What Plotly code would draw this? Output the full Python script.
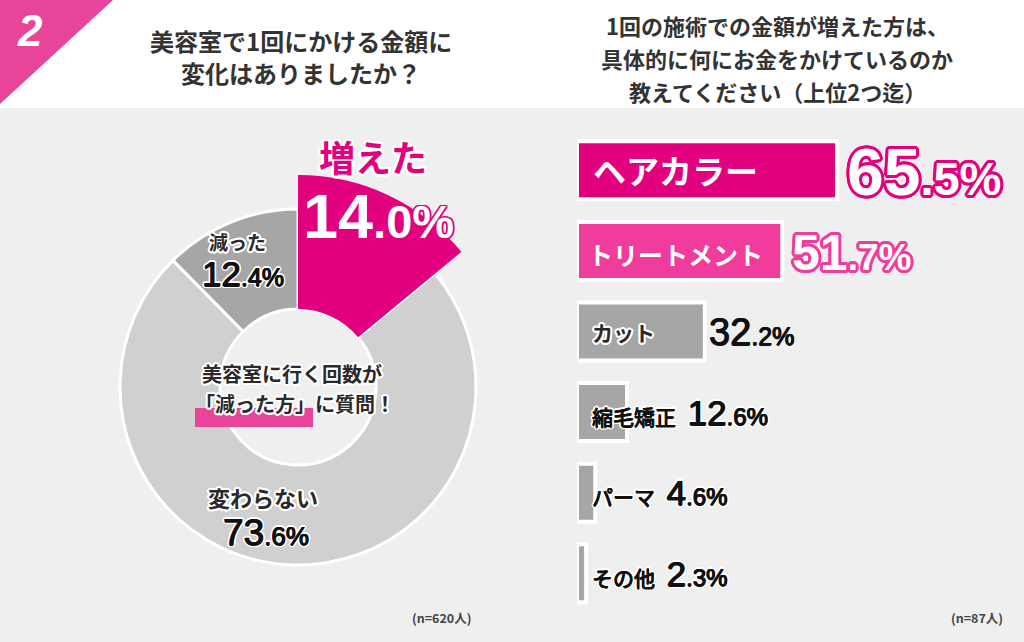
import math
import plotly.graph_objects as go

W, H = 1024, 642

# ---------------- data ----------------
badge = "2"
left_title = ["美容室で1回にかける金額に", "変化はありましたか？"]
right_title = ["1回の施術での金額が増えた方は、", "具体的に何にお金をかけているのか", "教えてください（上位2つ迄）"]

donut_labels = ["増えた", "変わらない", "減った"]
donut_values = [14.0, 73.6, 12.4]
donut_note = ["美容室に行く回数が", "「減った方」に質問！"]
donut_n = "(n=620人)"

bar_labels = ["ヘアカラー", "トリートメント", "カット", "縮毛矯正", "パーマ", "その他"]
bar_values = [65.5, 51.7, 32.2, 12.6, 4.6, 2.3]
bar_n = "(n=87人)"

# ---------------- style ----------------
PINK = "#e3007f"
PINK2 = "#f03c9c"
BADGE = "#e8449a"
RING = "#d0d0d0"
DARKG = "#a6a6a6"
BG = "#efefef"
TXT = "#2a2a2a"
JP = "Noto Sans CJK JP"
NUM = "Liberation Sans, Noto Sans CJK JP"


def px(x):
    return x / W


def py(y):
    return 1 - y / H


def outline(color, w, n=16, core=None):
    parts = []
    if core:
        parts += [f"0.6px 0 0 {core}", f"-0.6px 0 0 {core}", f"0 0.5px 0 {core}"]
    for k in range(n):
        a = 2 * math.pi * k / n
        parts.append(f"{w*math.cos(a):.1f}px {w*math.sin(a):.1f}px 0 {color}")
    return ", ".join(parts)


def pct(v, big, small):
    s = f"{v:.1f}"
    a, b = s.split(".")
    return (f'<span style="font-size:{big}px">{a}</span>'
            f'<span style="font-size:{small}px">.{b}%</span>')


fig = go.Figure()

# ---------------- donut ----------------
cx, cy, R, Rin, Rpink = 298, 387, 178, 78, 212

fig.add_trace(go.Pie(
    labels=donut_labels, values=donut_values, sort=False, direction="clockwise",
    rotation=0, hole=Rin / R, textinfo="none", hoverinfo="label+percent",
    marker=dict(colors=[PINK, RING, DARKG], line=dict(color="white", width=3)),
    domain=dict(x=[px(cx - R), px(cx + R)], y=[py(cy + R), py(cy - R)]),
    showlegend=False,
))
# enlarged highlight slice ("増えた")
fig.add_trace(go.Pie(
    labels=[donut_labels[0], "rest"], values=[donut_values[0], 100 - donut_values[0]],
    sort=False, direction="clockwise", rotation=0, hole=Rin / Rpink,
    textinfo="none", hoverinfo="skip",
    marker=dict(colors=[PINK, "rgba(0,0,0,0)"], line=dict(color="rgba(0,0,0,0)", width=0)),
    domain=dict(x=[px(cx - Rpink), px(cx + Rpink)], y=[py(cy + Rpink), py(cy - Rpink)]),
    showlegend=False,
))

# ---------------- bars ----------------
x0, unit = 577, 3.97
bar_top, bar_pitch = 130, 80.6
nb = len(bar_labels)
bar_colors = [PINK, PINK2] + [DARKG] * (nb - 2)

fig.add_trace(go.Bar(
    y=bar_labels, x=bar_values, orientation="h", width=0.72,
    marker=dict(color=bar_colors, line=dict(color="white", width=4)),
    hoverinfo="y+x", showlegend=False,
))

fig.update_layout(
    width=W, height=H, margin=dict(l=0, r=0, t=0, b=0),
    paper_bgcolor=BG, plot_bgcolor="rgba(0,0,0,0)",
    xaxis=dict(domain=[px(x0), px(x0 + 100 * unit)], range=[0, 100], visible=False, fixedrange=True),
    yaxis=dict(domain=[py(bar_top + nb * bar_pitch), py(bar_top)], type="category",
               categoryorder="array", categoryarray=bar_labels,
               range=[nb - 0.5, -0.5], visible=False, fixedrange=True),
    bargap=0.28,
)

shapes = [
    dict(type="rect", xref="paper", yref="paper", x0=0, x1=1, y0=py(108), y1=1,
         fillcolor="white", line_width=0, layer="below"),
    dict(type="path", xref="paper", yref="paper",
         path=f"M0,{py(0)} L{px(113)},{py(0)} L0,{py(104)} Z",
         fillcolor=BADGE, line_width=0, layer="below"),
    dict(type="rect", xref="paper", yref="paper", x0=px(195), x1=px(313), y0=py(427), y1=py(408),
         fillcolor=BADGE, line_width=0, layer="above"),
]

ann = []


def A(x, y, text, size, color=TXT, family=JP, weight="normal", shadow="none",
      xanchor="center", style="normal", **kw):
    d = dict(x=px(x), y=py(y), xref="paper", yref="paper", text=text, showarrow=False,
             xanchor=xanchor, yanchor="middle",
             font=dict(size=size, color=color, family=family, weight=weight,
                       shadow=shadow, style=style))
    d.update(kw)
    ann.append(d)


# badge & titles
A(30, 31, badge, 44, color="white", family=NUM, weight="bold", style="italic")
for i, t in enumerate(left_title):
    A(301, 40 + 33 * i, t, 24, color="#333", weight="bold")
for i, t in enumerate(right_title):
    A(777, 25 + 33 * i, t, 22, color="#333", weight="bold")

# donut labels
A(373, 156, donut_labels[0], 36, color=PINK, weight="bold", shadow=outline("white", 2.5))
A(378, 216, pct(donut_values[0], 63, 47), 63, color="white", family=NUM, weight="bold",
  shadow=outline(PINK, 1.5))
A(237, 242, donut_labels[2], 19, weight="bold", shadow=outline("white", 2))
A(243, 273, pct(donut_values[2], 35, 25), 35, color="#111", family=NUM,
  shadow=outline("white", 2, core="#111"))
A(263, 497, donut_labels[1], 22, weight="bold", shadow=outline("white", 2))
A(266, 532, pct(donut_values[1], 37, 26), 37, color="#111", family=NUM,
  shadow=outline("white", 2, core="#111"))
A(292, 373, donut_note[0], 20, weight="bold", shadow=outline("white", 2))
A(295, 403, donut_note[1], 20, weight="bold", shadow=outline("white", 2))
A(441, 617, donut_n, 12.5, color="#444", weight="bold")
A(977, 617, bar_n, 12.5, color="#444", weight="bold")

# bar labels
for i, (lab, v) in enumerate(zip(bar_labels, bar_values)):
    if i == 0:
        ann.append(dict(x=0, y=lab, xref="x", yref="y", xanchor="left", xshift=14,
                        text=lab, showarrow=False,
                        font=dict(size=33, color="white", family=JP, weight="bold")))
        ann.append(dict(x=v, y=lab, xref="x", yref="y", xanchor="left", xshift=8, yshift=-2,
                        text=pct(v, 66, 47), showarrow=False,
                        font=dict(size=66, color="white", family=NUM, weight="bold",
                                  shadow=outline(PINK, 3))))
    elif i == 1:
        ann.append(dict(x=0, y=lab, xref="x", yref="y", xanchor="left", xshift=9, yshift=-3,
                        text=lab, showarrow=False,
                        font=dict(size=25, color="white", family=JP, weight="bold")))
        ann.append(dict(x=v, y=lab, xref="x", yref="y", xanchor="left", xshift=8, yshift=-2,
                        text=pct(v, 50, 37), showarrow=False,
                        font=dict(size=50, color="white", family=NUM, weight="bold",
                                  shadow=outline(PINK2, 3))))
    elif v >= 30:
        ann.append(dict(x=0, y=lab, xref="x", yref="y", xanchor="left", xshift=13,
                        text=lab, showarrow=False,
                        font=dict(size=21, color=TXT, family=JP, weight="bold",
                                  shadow=outline("white", 2))))
        ann.append(dict(x=v, y=lab, xref="x", yref="y", xanchor="left", xshift=2,
                        text=pct(v, 38, 25), showarrow=False,
                        font=dict(size=38, color="#111", family=NUM,
                                  shadow=outline("rgba(0,0,0,0)", 0, n=1, core="#111"))))
    else:
        ann.append(dict(x=0, y=lab, xref="x", yref="y", xanchor="left", xshift=13,
                        text=f"{lab}  " + pct(v, 35, 24), showarrow=False,
                        font=dict(size=21, color="#111", family=NUM,
                                  shadow=outline("white", 2, core="#111"))))

fig.update_layout(shapes=shapes, annotations=ann)
fig.write_html("out.html")
